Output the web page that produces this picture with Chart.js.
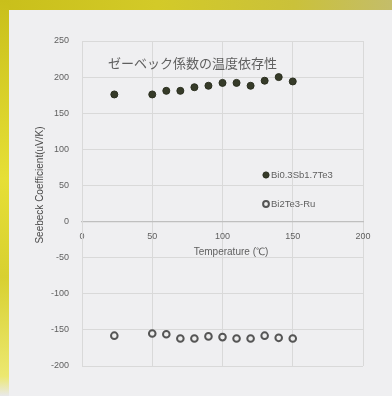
<!DOCTYPE html>
<html lang="ja">
<head>
<meta charset="UTF-8">
<meta name="viewport" content="width=device-width, initial-scale=1.0">
<title>ゼーベック係数の温度依存性</title>
<script src="https://cdn.jsdelivr.net/npm/chart.js"></script>
<style>
  html, body { margin: 0; padding: 0; }
  body {
    width: 392px; height: 396px; overflow: hidden; position: relative;
    background: #efeff1;
  }
  /* yellow slide frame along the top and left edges */
  #frameTop {
    position: absolute; left: 0; top: 0; width: 392px; height: 10px;
    background: linear-gradient(90deg, #c9bf1a 0%, #d3ca28 40%, #cac13a 75%, #c4bd6a 100%);
  }
  #frameLeft {
    position: absolute; left: 0; top: 0; width: 9px; height: 396px;
    background: linear-gradient(180deg, #c9bf1a 0%, #e6df36 45%, #d8d030 70%, #ece870 95%, #e9e9ea 100%);
  }
  #wrap { position: absolute; left: 0; top: 0; }
</style>
</head>
<body>
  <div id="frameTop"></div>
  <div id="frameLeft"></div>
  <div id="wrap"><canvas id="seebeck" width="392" height="396"></canvas></div>

  <script>
    // Measured Seebeck coefficients (uV/K) against temperature (℃)
    const temps = [23, 50, 60, 70, 80, 90, 100, 110, 120, 130, 140, 150];
    const seebeckP = [176, 176, 181, 181, 186, 188, 192, 192, 188, 195, 200, 194];
    const seebeckN = [-158, -155, -156, -162, -162, -159, -160, -162, -162, -158, -161, -162];
    const seriesNames = ['Bi0.3Sb1.7Te3', 'Bi2Te3-Ru'];

    const chartTitle = 'ゼーベック係数の温度依存性';
    const xTitle = 'Temperature (℃)';
    const yTitle = 'Seebeck Coefficient(uV/K)';

    const textColor = '#5f5f5f';
    const gridColor = '#d9d9d9';

    const toPoints = (ys) => temps.map((t, i) => ({ x: t, y: ys[i] }));

    // Titles and the small legend sit inside the plot, so draw them by hand
    const overlayText = {
      id: 'overlayText',
      afterDraw(chart) {
        const ctx = chart.ctx;
        ctx.save();
        ctx.fillStyle = textColor;
        ctx.textBaseline = 'middle';

        ctx.font = '13px "Noto Sans CJK JP"';
        ctx.textAlign = 'left';
        ctx.fillText(chartTitle, 108, 63);

        ctx.font = '10px "Liberation Sans"';
        ctx.textAlign = 'center';
        ctx.fillText(xTitle, 231, 252);

        ctx.save();
        ctx.translate(40, 185);
        ctx.rotate(-Math.PI / 2);
        ctx.fillStyle = '#4a4a4a';
        ctx.fillText(yTitle, 0, 0);
        ctx.restore();

        // legend entries
        const legendY = [175, 204];
        chart.data.datasets.forEach((ds, i) => {
          ctx.beginPath();
          ctx.arc(266, legendY[i], ds.pointRadius - 0.4, 0, Math.PI * 2);
          ctx.fillStyle = ds.pointBackgroundColor;
          ctx.fill();
          ctx.lineWidth = ds.pointBorderWidth;
          ctx.strokeStyle = ds.pointBorderColor;
          ctx.stroke();
          ctx.fillStyle = textColor;
          ctx.textAlign = 'left';
          ctx.font = '9.5px "Liberation Sans"';
          ctx.fillText(ds.label, 271, legendY[i] + 0.5);
        });
        ctx.restore();
      }
    };

    const ctx = document.getElementById('seebeck').getContext('2d');
    const chart = new Chart(ctx, {
      type: 'scatter',
      data: {
        datasets: [
          {
            label: seriesNames[0],
            data: toPoints(seebeckP),
            pointRadius: 3.5,
            pointBackgroundColor: '#363b29',
            pointBorderColor: '#2a2e1f',
            pointBorderWidth: 1
          },
          {
            label: seriesNames[1],
            data: toPoints(seebeckN),
            pointRadius: 3.3,
            pointBackgroundColor: '#eeeeee',
            pointBorderColor: '#555555',
            pointBorderWidth: 2
          }
        ]
      },
      options: {
        responsive: false,
        animation: false,
        events: [],
        layout: { padding: { left: 0, right: 29, top: 41, bottom: 30 } },
        plugins: {
          legend: { display: false },
          tooltip: { enabled: false }
        },
        scales: {
          x: {
            type: 'linear',
            position: { y: 0 },
            min: 0,
            max: 200,
            ticks: {
              stepSize: 50,
              padding: 10,
              color: textColor,
              font: { family: 'Liberation Sans', size: 9 }
            },
            grid: { color: gridColor, drawTicks: false },
            border: { color: '#bfbfbf', width: 1.2 }
          },
          y: {
            min: -200,
            max: 250,
            ticks: {
              stepSize: 50,
              padding: 13,
              color: textColor,
              font: { family: 'Liberation Sans', size: 9 }
            },
            grid: { color: gridColor, drawTicks: false },
            border: { color: gridColor },
            afterFit: (scale) => { scale.width = 82; }
          }
        }
      },
      plugins: [overlayText]
    });
  </script>
</body>
</html>
